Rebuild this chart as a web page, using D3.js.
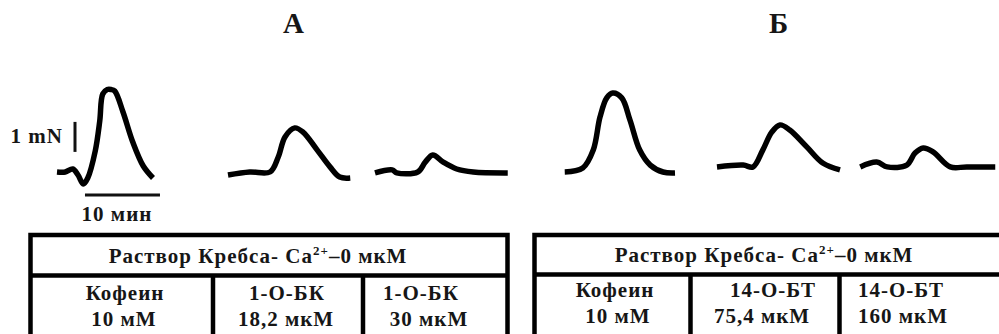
<!DOCTYPE html>
<head>
  <title>Ca2+ traces</title>
</head>
<style>
html, body {
  margin: 0;
  padding: 0;
  background: #ffffff;
}
svg text {
  font-family: "Liberation Serif", "Times New Roman", serif;
  font-weight: bold;
  fill: #161616;
  letter-spacing: 1px;
}
.trace {
  fill: none;
  stroke: #000000;
  stroke-width: 5.5px;
  stroke-linejoin: round;
}
.bar {
  stroke: #111111;
  stroke-width: 3px;
}
.grid {
  fill: none;
  stroke: #000000;
  stroke-width: 4.5px;
}
</style>

<svg width="999" height="334"></svg>

<script src="https://cdnjs.cloudflare.com/ajax/libs/d3/7.8.5/d3.min.js"></script>
<script>
// panel titles
var panels = ["А", "Б"];

// force traces on a shared time line: [minutes, mN]
var traceCaffeineA = [[7.6,0],[8.7,0],[9.7,0.1],[10.4,-0.1],[11.1,-0.4],[11.7,-0.2],[12.7,0.7],[13.3,1.7],[13.7,2.6],[14.3,2.75],[14.8,2.75],[15.3,2.7],[16.4,2.0],[17.7,1.0],[19.1,0.2],[20.4,-0.2]];
var traceBK18 = [[30.4,-0.1],[33.3,0],[36.0,0],[37.1,0.5],[38.0,1.17],[39.3,1.47],[40.4,1.33],[42.3,0.73],[44.0,0.17],[45.3,-0.17],[46.7,-0.2]];
var traceBK30 = [[50.0,-0.03],[52.3,0.07],[52.9,-0.03],[55.7,0],[56.7,0.33],[57.7,0.57],[59.1,0.33],[60.9,0.1],[63.1,0],[67.7,-0.03]];
var traceCaffeineB = [[75.3,0],[77.7,0.13],[79.1,0.73],[80.0,1.83],[80.9,2.47],[81.7,2.63],[82.9,2.47],[84.0,1.73],[85.3,0.73],[86.7,0.23],[88.4,0],[90.0,-0.03]];
var traceBT75 = [[95.6,0.17],[99.1,0.23],[100.4,0.17],[101.7,0.73],[102.9,1.33],[104.0,1.57],[105.3,1.4],[107.6,0.83],[109.7,0.3],[112.0,0.07]];
var traceBT160 = [[114.7,0.17],[116.9,0.33],[118.3,0.17],[120.9,0.23],[122.0,0.63],[123.1,0.8],[124.4,0.67],[126.7,0.17],[128.9,0.17],[132.7,0.17]];

// scale bars
var barForce = 1;      // mN
var barTime = 10;      // min
var barForceLabel = "1 mN";
var barTimeLabel = "10 мин";

// tables
var tableHeader = ["Раствор Кребса- Ca", "2+", "–0 мкМ"];
var cellsA = [["Кофеин", "10 мМ"], ["1-О-БК", "18,2 мкМ"], ["1-О-БК", "30 мкМ"]];
var cellsB = [["Кофеин", "10 мМ"], ["14-О-БТ", "75,4 мкМ"], ["14-О-БТ", "160 мкМ"]];

var svg = d3.select("svg");

var x = d3.scaleLinear().domain([0, 133.2]).range([0, 999]);
var y = d3.scaleLinear().domain([0, 1]).range([172, 142]);

var line = d3.line()
  .x(function(d) { return x(d[0]); })
  .y(function(d) { return y(d[1]); })
  .curve(d3.curveCatmullRom.alpha(0.5));

svg.selectAll(".trace")
  .data([traceCaffeineA, traceBK18, traceBK30, traceCaffeineB, traceBT75, traceBT160])
  .enter().append("path")
    .attr("class", "trace")
    .attr("d", line);

// titles
svg.selectAll(".panel")
  .data(panels)
  .enter().append("text")
    .attr("class", "panel")
    .attr("x", function(d, i) { return i == 0 ? 294 : 779; })
    .attr("y", 33)
    .attr("text-anchor", "middle")
    .attr("font-size", 29)
    .text(function(d) { return d; });

// scale bars
svg.append("line").attr("class", "bar")
  .attr("x1", x(10)).attr("x2", x(10))
  .attr("y1", y(0.67)).attr("y2", y(0.67 + barForce));
svg.append("line").attr("class", "bar")
  .attr("x1", x(11.33)).attr("x2", x(11.33 + barTime))
  .attr("y1", y(-0.77)).attr("y2", y(-0.77));
svg.append("text")
  .attr("x", 63).attr("y", 143)
  .attr("text-anchor", "end")
  .attr("font-size", 21)
  .text(barForceLabel);
svg.append("text")
  .attr("x", 117).attr("y", 221)
  .attr("text-anchor", "middle")
  .attr("font-size", 21)
  .text(barTimeLabel);

function drawTable(left, right, dividers, headY, headX, cells, textX, lineY, anchors) {
  var g = svg.append("g");
  g.append("rect").attr("class", "grid")
    .attr("x", left).attr("y", 235)
    .attr("width", right - left).attr("height", 130);
  g.append("line").attr("class", "grid")
    .attr("x1", left).attr("x2", right)
    .attr("y1", headY).attr("y2", headY);
  dividers.forEach(function(d) {
    g.append("line").attr("class", "grid")
      .attr("x1", d).attr("x2", d)
      .attr("y1", headY).attr("y2", 340);
  });

  var h = g.append("text")
    .attr("x", headX)
    .attr("y", headY - 13)
    .attr("text-anchor", "middle")
    .attr("font-size", 21);
  h.append("tspan").text(tableHeader[0]);
  h.append("tspan").attr("font-size", 13).attr("dy", -8).text(tableHeader[1]);
  h.append("tspan").attr("dy", 8).text(tableHeader[2]);

  cells.forEach(function(c, i) {
    c.forEach(function(t, j) {
      g.append("text")
        .attr("x", textX[i][j])
        .attr("y", lineY[j])
        .attr("text-anchor", anchors[i])
        .attr("font-size", 21)
        .text(t);
    });
  });
}

drawTable(30.5, 507.5, [213, 363], 275.5, 258, cellsA,
  [[125, 124], [287, 286], [421, 429]], [300, 326], ["middle", "middle", "middle"]);
drawTable(534.5, 1010, [690.5, 839.5], 274.5, 764, cellsB,
  [[615, 618], [773, 762], [858, 858]], [297, 323], ["middle", "middle", "start"]);
</script>
